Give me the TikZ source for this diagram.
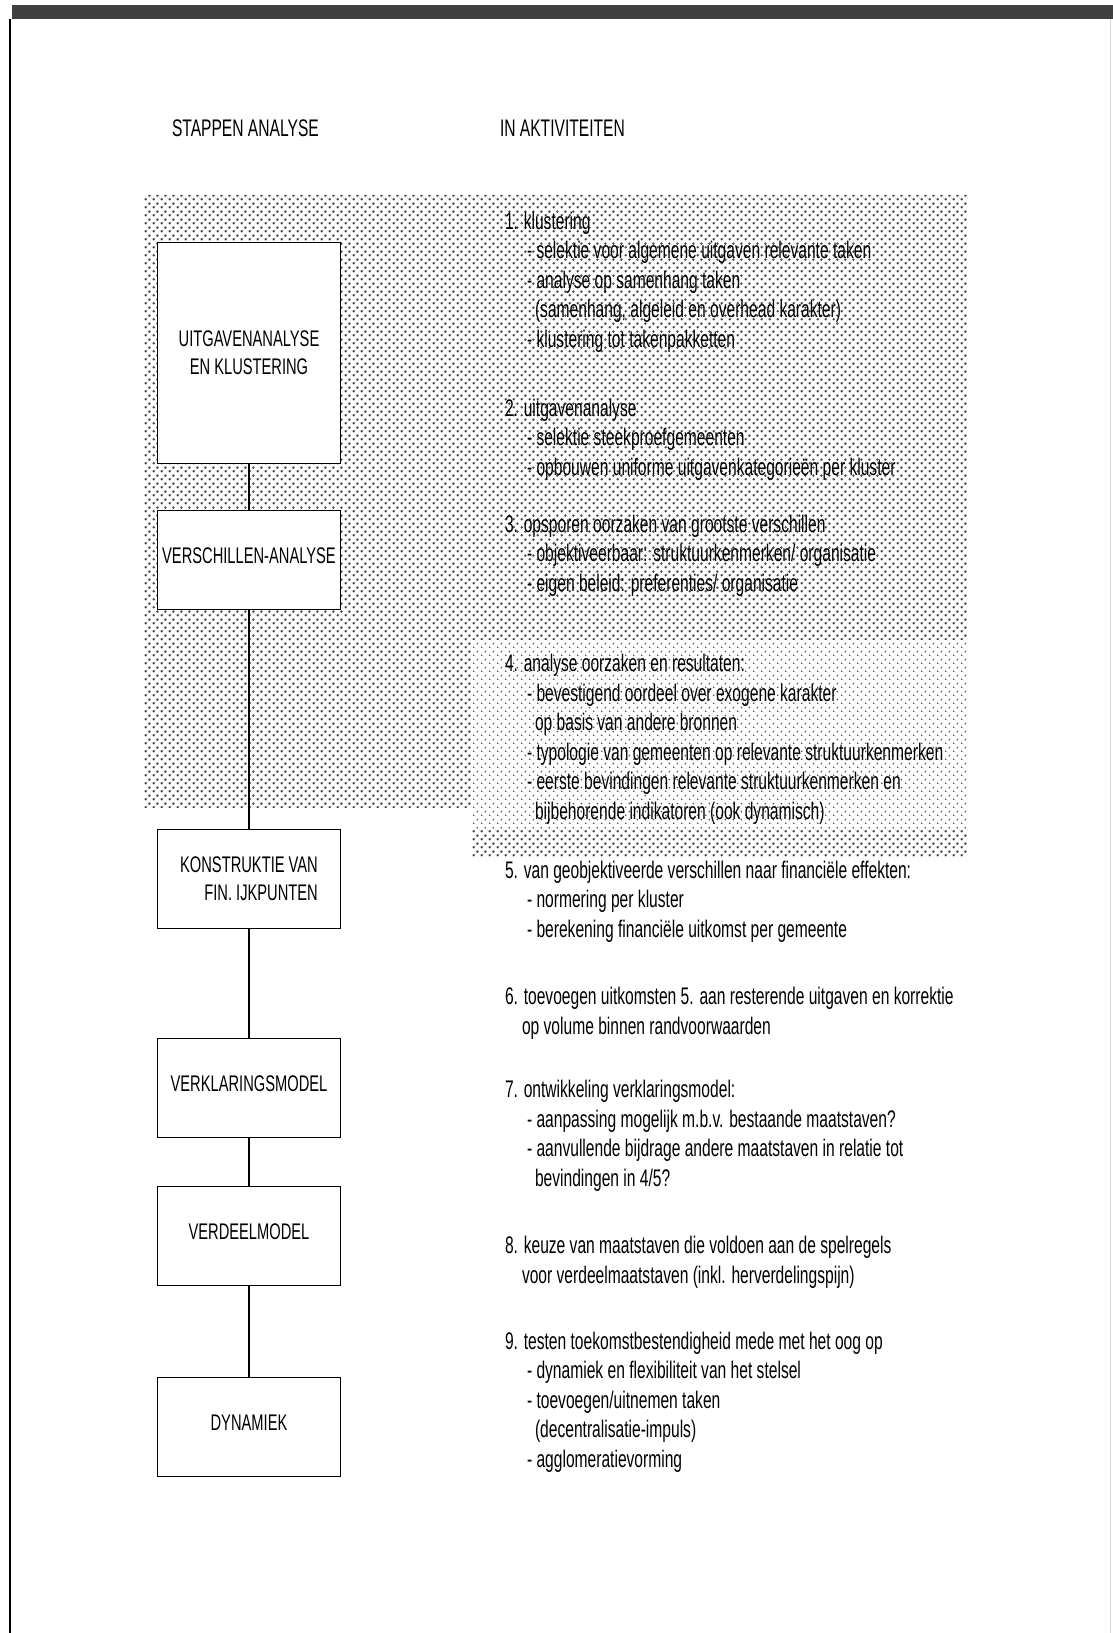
\documentclass[tikz,border=0pt]{standalone}
\usepackage{fontspec}
\setmainfont{Liberation Sans}[FakeStretch=0.65]
\usetikzlibrary{patterns.meta}

\tikzdeclarepattern{name=rasterdots,type=uncolored,
  bounding box={(0pt,0pt) and (4pt,4pt)},tile size={(4pt,4pt)},
  code={\fill (1pt,1pt) circle (0.8pt); \fill (3pt,3pt) circle (0.8pt);}}
\tikzdeclarepattern{name=finedots,type=uncolored,
  bounding box={(0pt,0pt) and (4pt,4pt)},tile size={(4pt,4pt)},
  code={\fill (1pt,1pt) circle (0.5pt); \fill (3pt,3pt) circle (0.5pt);}}

\newcommand{\streep}{\hspace*{11pt}- }
\newcommand{\verder}{\hspace*{15pt}}
\newcommand{\inspring}{\hspace*{8.5pt}}

\begin{document}
\begin{tikzpicture}[x=0.5pt,y=-0.5pt,inner sep=0pt,outer sep=0pt,
font=\fontsize{12}{14.75}\selectfont,
stapblok/.style={draw,rectangle,fill=white,line width=0.8pt,minimum width=91.5pt,minimum height=49.5pt,align=center,font=\fontsize{11.3}{14}\selectfont},
enkelregel/.style={text depth=4pt},
aktiviteit/.style={anchor=base west,align=left},
kop/.style={anchor=base west},
verbinding/.style={line width=0.8pt}]
\useasboundingbox (0,0) rectangle (1113,1633);

% raster achtergrond
\fill[pattern=rasterdots,pattern color=black!70] (143,195) -- (968,195) -- (968,857) -- (472,857) -- (472,808) -- (143,808) -- cycle;
\fill[white] (472,640) rectangle (968,830);
\fill[pattern=finedots,pattern color=black!70] (472,640) rectangle (968,830);

% kader
\fill[black!75] (12,5) rectangle (1113,19);
\draw[line width=1pt] (10,19) -- (10,1633);
\draw[black!15] (1110,19) -- (1110,1633);

\draw (172,136) node[kop] (kopstap) {STAPPEN ANALYSE};
\draw (500,136) node[kop] (kopakt) {IN AKTIVITEITEN};

% stappen
\draw (249,353) node[stapblok,minimum height=110.5pt] (uitgaven) {UITGAVENANALYSE\\EN KLUSTERING};
\draw (249,560) node[stapblok,enkelregel] (verschillen) {VERSCHILLEN-ANALYSE};
\draw (249,879) node[stapblok,align=right] (konstruktie) {KONSTRUKTIE VAN\\FIN. IJKPUNTEN};
\draw (249,1088) node[stapblok,enkelregel] (verklaring) {VERKLARINGSMODEL};
\draw (249,1236) node[stapblok,enkelregel] (verdeel) {VERDEELMODEL};
\draw (249,1427) node[stapblok,enkelregel] (dynamiek) {DYNAMIEK};

\draw[verbinding] (uitgaven) -- (verschillen);
\draw[verbinding] (verschillen) -- (konstruktie);
\draw[verbinding] (konstruktie) -- (verklaring);
\draw[verbinding] (verklaring) -- (verdeel);
\draw[verbinding] (verdeel) -- (dynamiek);

% aktiviteiten (anker op de basislijn van de laatste regel)
\draw (505,347) node[aktiviteit] (akt1) {1. klustering\\
\streep selektie voor algemene uitgaven relevante taken\\
\streep analyse op samenhang taken\\
\verder(samenhang, algeleid en overhead karakter)\\
\streep klustering tot takenpakketten};
\draw (505,475) node[aktiviteit] (akt2) {2. uitgavenanalyse\\
\streep selektie steekproefgemeenten\\
\streep opbouwen uniforme uitgavenkategorieën per kluster};
\draw (505,591) node[aktiviteit] (akt3) {3. opsporen oorzaken van grootste verschillen\\
\streep objektiveerbaar: struktuurkenmerken/ organisatie\\
\streep eigen beleid: preferenties/ organisatie};
\draw (505,819) node[aktiviteit] (akt4) {4. analyse oorzaken en resultaten:\\
\streep bevestigend oordeel over exogene karakter\\
\verder op basis van andere bronnen\\
\streep typologie van gemeenten op relevante struktuurkenmerken\\
\streep eerste bevindingen relevante struktuurkenmerken en\\
\verder bijbehorende indikatoren (ook dynamisch)};
\draw (505,937) node[aktiviteit] (akt5) {5. van geobjektiveerde verschillen naar financiële effekten:\\
\streep normering per kluster\\
\streep berekening financiële uitkomst per gemeente};
\draw (505,1034) node[aktiviteit] (akt6) {6. toevoegen uitkomsten 5. aan resterende uitgaven en korrektie\\
\inspring op volume binnen randvoorwaarden};
\draw (505,1186) node[aktiviteit] (akt7) {7. ontwikkeling verklaringsmodel:\\
\streep aanpassing mogelijk m.b.v. bestaande maatstaven?\\
\streep aanvullende bijdrage andere maatstaven in relatie tot\\
\verder bevindingen in 4/5?};
\draw (505,1283) node[aktiviteit] (akt8) {8. keuze van maatstaven die voldoen aan de spelregels\\
\inspring voor verdeelmaatstaven (inkl. herverdelingspijn)};
\draw (505,1467) node[aktiviteit] (akt9) {9. testen toekomstbestendigheid mede met het oog op\\
\streep dynamiek en flexibiliteit van het stelsel\\
\streep toevoegen/uitnemen taken\\
\verder(decentralisatie-impuls)\\
\streep agglomeratievorming};

\end{tikzpicture}
\end{document}
